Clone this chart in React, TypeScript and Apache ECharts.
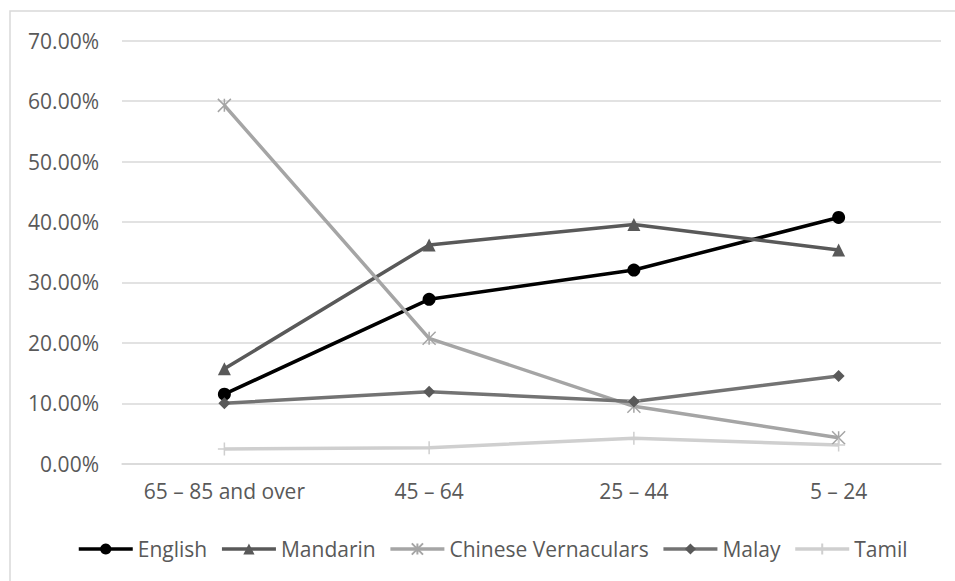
import React, { useEffect, useRef } from "react";
import * as echarts from "echarts";

// Age groups along the x axis
const ageGroups = ["65 – 85 and over", "45 – 64", "25 – 44", "5 – 24"];

// Share of each language spoken most frequently at home (%)
const english = [11.5, 27.2, 32.05, 40.75];
const mandarin = [15.7, 36.2, 39.6, 35.35];
const chineseVernaculars = [59.3, 20.75, 9.5, 4.3];
const malay = [10.0, 11.9, 10.3, 14.5];
const tamil = [2.45, 2.65, 4.2, 3.1];

const FONT = "'Open Sans', 'Liberation Sans', sans-serif";
const TEXT_GREY = "#595959";
const GRID_GREY = "#D9D9D9";
const FONT_SIZE = 21;

// Stroke-only marker shapes
const STAR = "path://M0,0L10,10M10,0L0,10M5,0L5,10";
const PLUS = "path://M5,0L5,10M0,5L10,5";

export default function App() {
  const ref = useRef<HTMLDivElement>(null);

  useEffect(() => {
    if (!ref.current) return;
    const chart = echarts.init(ref.current, undefined, { renderer: "svg" });

    const lineSeries = (
      name: string,
      data: number[],
      color: string,
      symbol: string,
      symbolSize: number,
      width: number,
      markerColor?: string,
      stroked?: boolean
    ) => ({
      name,
      type: "line",
      data,
      symbol,
      symbolSize,
      showAllSymbol: true,
      lineStyle: { color, width },
      itemStyle: stroked
        ? { color: "rgba(0,0,0,0)", borderColor: color, borderWidth: 1.5 }
        : { color: markerColor || color, borderWidth: 0 },
      emphasis: { disabled: true },
    });

    chart.setOption({
      animation: false,
      textStyle: { fontFamily: FONT },
      graphic: [
        {
          type: "rect",
          shape: { x: 10, y: 11, width: 1000, height: 640 },
          style: { fill: "none", stroke: GRID_GREY, lineWidth: 1.5 },
          silent: true,
          z: -1,
        },
      ],
      grid: { left: 122, right: 14, top: 40.7, bottom: 117.3 },
      legend: {
        left: 77,
        top: 537,
        padding: 0,
        itemWidth: 54,
        itemHeight: 14,
        itemGap: 13,
        lineStyle: { width: 3.5 },
        textStyle: { fontSize: FONT_SIZE, color: TEXT_GREY, fontFamily: FONT, lineHeight: 24 },
        data: ["English", "Mandarin", "Chinese Vernaculars", "Malay", "Tamil"],
      },
      xAxis: {
        type: "category",
        data: ageGroups,
        boundaryGap: true,
        axisLine: { lineStyle: { color: GRID_GREY, width: 1.5 } },
        axisTick: { show: false },
        axisLabel: { interval: 0, fontSize: FONT_SIZE, color: TEXT_GREY, margin: 17, fontFamily: FONT },
      },
      yAxis: {
        type: "value",
        min: 0,
        max: 70,
        interval: 10,
        axisLine: { show: false },
        axisTick: { show: false },
        splitLine: { lineStyle: { color: GRID_GREY, width: 1.5 } },
        axisLabel: {
          fontSize: FONT_SIZE,
          color: TEXT_GREY,
          margin: 23,
          fontFamily: FONT,
          formatter: (v: number) => v.toFixed(2) + "%",
        },
      },
      series: [
        lineSeries("English", english, "#000000", "circle", 13, 3.5),
        lineSeries("Mandarin", mandarin, "#595959", "triangle", 13, 3.5),
        lineSeries("Chinese Vernaculars", chineseVernaculars, "#A5A5A5", STAR, 13, 3.5, undefined, true),
        lineSeries("Malay", malay, "#737373", "diamond", 12, 3.5, "#595959"),
        lineSeries("Tamil", tamil, "#CFCFCF", PLUS, 13, 3.5, undefined, true),
      ],
    });

    return () => chart.dispose();
  }, []);

  return <div ref={ref} style={{ width: 955, height: 581, position: "absolute", left: 0, top: 0 }} />;
}
